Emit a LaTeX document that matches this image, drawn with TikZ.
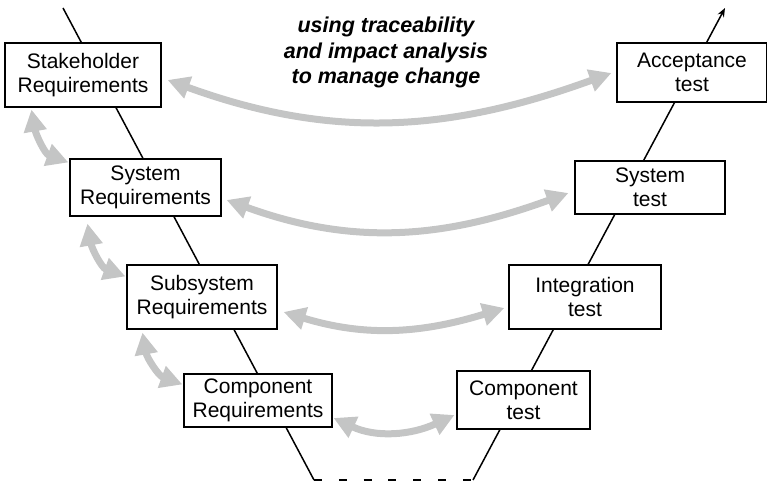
\documentclass[tikz,border=0pt]{standalone}
\usepackage{fontspec}
\setmainfont{Liberation Sans}
\usetikzlibrary{arrows.meta}
\definecolor{traceGray}{RGB}{196,197,197}
\begin{document}
\begin{tikzpicture}[x=1pt,y=1pt,
    phase/.style={draw,line width=1.1pt,fill=white,align=center,inner sep=0pt,font=\fontsize{21}{24}\selectfont},
    trace/.style={traceGray,line width=7pt,{Triangle[length=22pt,width=22pt]}-{Triangle[length=22pt,width=22pt]}},
    vline/.style={line width=1.5pt}]
    \useasboundingbox (0,0) rectangle (767,481);
    \coordinate (vtop) at (63,473);
    \coordinate (vleft) at (314,1);
    \coordinate (vright) at (473,1);
    \coordinate (vend) at (725,473);
    \draw[vline] (vtop) -- (vleft);
    \draw[vline,dash pattern=on 8pt off 16.8pt] (vleft) -- (vright);
    \draw[vline,-{Stealth[length=9pt,width=7pt]}] (vright) -- (vend);

    \node[phase,minimum width=156pt,minimum height=64pt] (sh) at (83,406) {Stakeholder\\Requirements};
    \node[phase,minimum width=151pt,minimum height=57pt] (sr) at (145.5,293.5) {System\\Requirements};
    \node[phase,minimum width=150pt,minimum height=64pt] (ss) at (202,184) {Subsystem\\Requirements};
    \node[phase,minimum width=148pt,minimum height=53pt] (cr) at (258,80.5) {Component\\Requirements};
    \node[phase,minimum width=150pt,minimum height=59pt] (at) at (692,408.5) {Acceptance\\test};
    \node[phase,minimum width=150pt,minimum height=53pt] (st) at (650,293.5) {System\\test};
    \node[phase,minimum width=152pt,minimum height=64pt] (it) at (585,184) {Integration\\test};
    \node[phase,minimum width=133pt,minimum height=58pt] (ct) at (523.5,81) {Component\\test};
    \node[font=\fontsize{21.5}{25.5}\selectfont\bfseries\itshape,align=center] (note) at (386,428.5) {using traceability\\and impact analysis\\to manage change};

    \draw[trace] ([shift={(6,-5)}]sh.east) to[out=-20,in=200] ([shift={(-5,-0.5)}]at.west);
    \draw[trace] ([shift={(5,-12.5)}]sr.east) to[out=-20,in=200] ([shift={(-6,-5.5)}]st.west);
    \draw[trace] ([shift={(6,-15)}]ss.east) to[out=-17,in=197] ([shift={(-4,-11)}]it.west);
    \draw[trace] ([shift={(1,-17.5)}]cr.east) to[out=-25,in=205] ([shift={(-2,-15)}]ct.west);
    \draw[trace] ([shift={(27,-2)}]sh.south west) to[out=-80,in=160] ([shift={(-1,-4)}]sr.north west);
    \draw[trace] ([shift={(18,-7)}]sr.south west) to[out=-80,in=160] ([shift={(-1,-12)}]ss.north west);
    \draw[trace] ([shift={(16,-3)}]ss.south west) to[out=-80,in=160] ([shift={(-1,-11)}]cr.north west);
\end{tikzpicture}
\end{document}
